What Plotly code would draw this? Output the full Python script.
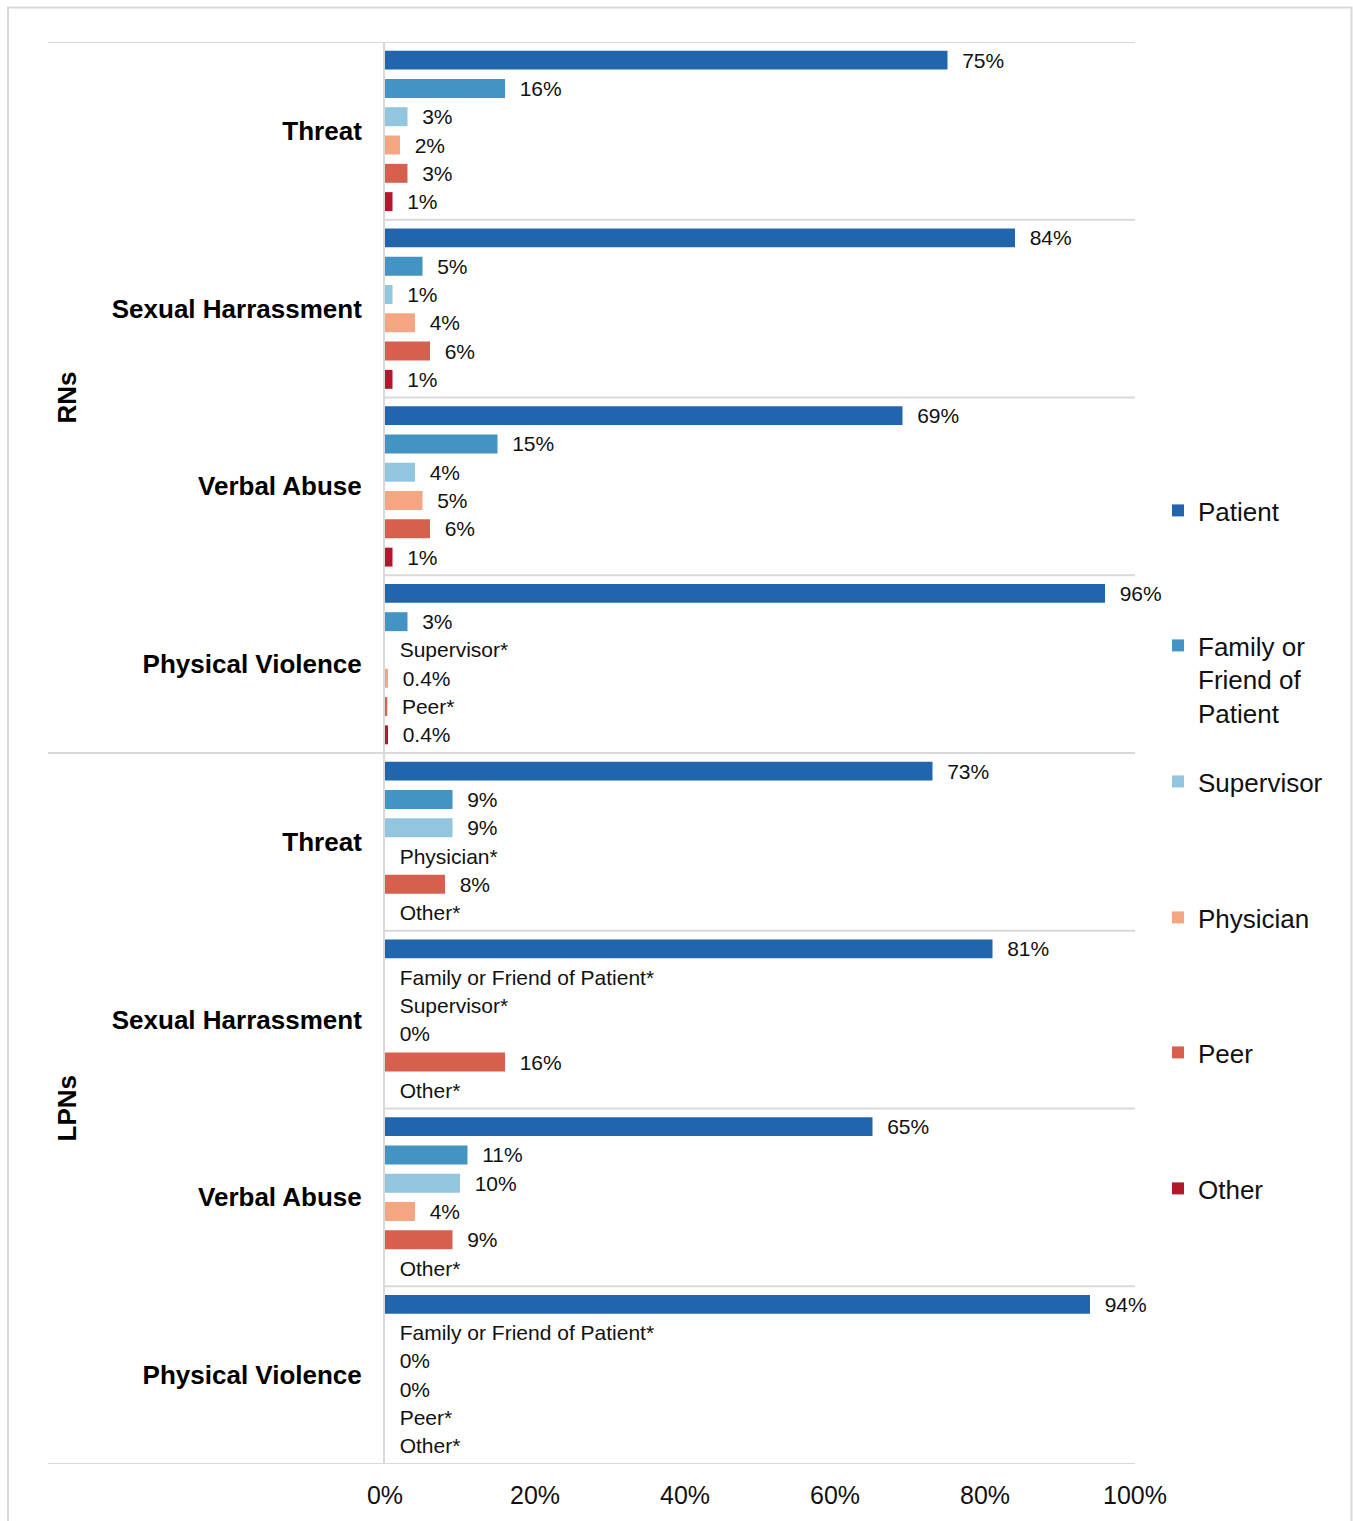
import plotly.graph_objects as go

# Incident categories (top to bottom), grouped by nurse type
nurse_types = ["RNs", "LPNs"]
incidents = ["Threat", "Sexual Harrassment", "Verbal Abuse", "Physical Violence"]

# Perpetrator series
series_names = ["Patient", "Family or Friend of Patient", "Supervisor",
                "Physician", "Peer", "Other"]
legend_names = ["Patient", "Family or<br>Friend of<br>Patient", "Supervisor",
                "Physician", "Peer", "Other"]
colors = ["#2166ac", "#4393c3", "#92c5de", "#f4a582", "#d6604d", "#b2182b"]

# Percent of incidents by perpetrator (RNs: 4 incidents, then LPNs: 4 incidents)
patient = [75, 84, 69, 96, 73, 81, 65, 94]
family = [16, 5, 15, 3, 9, 0, 11, 0]
supervisor = [3, 1, 4, 0, 9, 0, 10, 0]
physician = [2, 4, 5, 0.4, 0, 0, 4, 0]
peer = [3, 6, 6, 0.3, 8, 16, 9, 0]
other = [1, 1, 1, 0.4, 0, 0, 0, 0]

# Cells suppressed for small counts (labelled with the perpetrator name and *)
patient_suppressed = [False] * 8
family_suppressed = [False, False, False, False, False, True, False, True]
supervisor_suppressed = [False, False, False, True, False, True, False, False]
physician_suppressed = [False, False, False, False, True, False, False, False]
peer_suppressed = [False, False, False, True, False, False, False, True]
other_suppressed = [False, False, False, False, True, True, True, True]

values = [patient, family, supervisor, physician, peer, other]
suppressed = [patient_suppressed, family_suppressed, supervisor_suppressed,
              physician_suppressed, peer_suppressed, other_suppressed]

x_ticks = [0, 20, 40, 60, 80, 100]

categories = [inc for _ in nurse_types for inc in incidents]
n_groups = len(categories)
ypos = list(range(n_groups))

# Pixel geometry of the plotting area
W, H = 1353, 1521
L, R, T, B = 385, 1135, 42, 1464
pw, ph = R - L, B - T


def px_x(p):
    return (p - L) / pw


def px_y(p):
    return (B - p) / ph


GRID = "#d9d9d9"
PAD = "\u00a0\u00a0"

fig = go.Figure()
for i, name in enumerate(series_names):
    texts = []
    for v, s in zip(values[i], suppressed[i]):
        texts.append(PAD + (f"{name}*" if s else f"{v:g}%"))
    fig.add_trace(go.Bar(
        y=ypos, x=values[i], orientation="h",
        name=legend_names[i], marker=dict(color=colors[i], line=dict(width=0)),
        text=texts, textposition="outside", cliponaxis=False,
        constraintext="none",
        textfont=dict(family="Liberation Sans, Arial", size=21, color="#111111"),
        legend="legend" if i == 0 else f"legend{i + 1}",
        hoverinfo="skip",
    ))

# Horizontal separators between incident groups
shapes = []
for k in range(n_groups + 1):
    major = k % len(incidents) == 0
    shapes.append(dict(type="line", xref="paper", yref="y",
                       x0=px_x(48) if major else 0, x1=1,
                       y0=k - 0.5, y1=k - 0.5,
                       line=dict(color=GRID, width=2), layer="below"))
# Outer frame
shapes.append(dict(type="rect", xref="paper", yref="paper",
                   x0=px_x(8), x1=px_x(1351.5), y0=px_y(1540), y1=px_y(7.5),
                   line=dict(color=GRID, width=2), fillcolor="rgba(0,0,0,0)",
                   layer="below"))

# Nurse type labels
annotations = []
for j, nt in enumerate(nurse_types):
    center = j * len(incidents) + (len(incidents) - 1) / 2
    annotations.append(dict(text=f"<b>{nt}</b>", xref="paper", yref="y",
                            x=px_x(66), y=center, textangle=-90,
                            showarrow=False, xanchor="center", yanchor="middle",
                            font=dict(family="Liberation Sans, Arial", size=26,
                                      color="#000000")))

# One legend per series so each entry sits at its own height
legend_y = [512, 647, 783, 919, 1054, 1190]
legend_font = dict(family="Liberation Sans, Arial", size=26, color="#111111")
legends = {}
for i, py in enumerate(legend_y):
    key = "legend" if i == 0 else f"legend{i + 1}"
    legends[key] = dict(x=px_x(1158), y=px_y(py - 25), xanchor="left",
                        yanchor="top", font=legend_font, valign="top",
                        bgcolor="rgba(0,0,0,0)", borderwidth=0,
                        itemwidth=30, tracegroupgap=0)

fig.update_layout(
    width=W, height=H,
    margin=dict(l=L, r=W - R, t=T, b=H - B),
    paper_bgcolor="white", plot_bgcolor="white",
    barmode="group", bargap=0.045, bargroupgap=0.33,
    font=dict(family="Liberation Sans, Arial", color="#111111"),
    xaxis=dict(range=[0, 100], tickvals=x_ticks,
               ticktext=[f"{t}%" for t in x_ticks],
               showgrid=False, zeroline=False, showline=False,
               tickfont=dict(size=25, color="#111111"), ticks="",
               ticklabelstandoff=14),
    yaxis=dict(range=[n_groups - 0.5, -0.5], tickvals=ypos,
               ticktext=[f"<b>{c}</b>" for c in categories],
               showgrid=False, zeroline=False,
               showline=True, linecolor=GRID, linewidth=2,
               ticks="", ticklabelstandoff=16,
               tickfont=dict(size=26, color="#000000")),
    shapes=shapes, annotations=annotations,
    showlegend=True,
    **legends,
)

fig.write_html("out.html")
